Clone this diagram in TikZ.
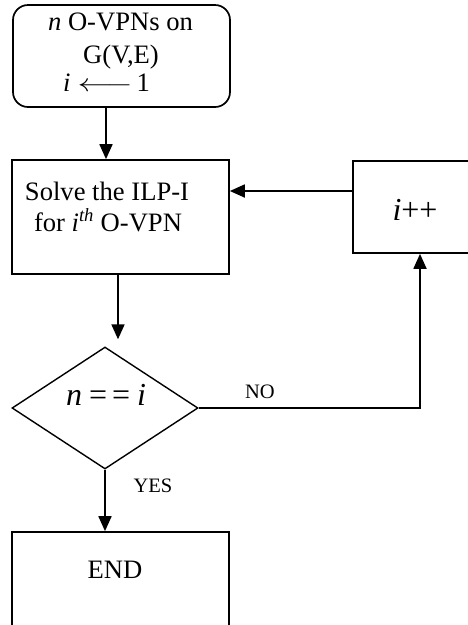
\documentclass[tikz,border=0pt]{standalone}
\usepackage{fontspec}
\setmainfont{Liberation Serif}
\usepackage{graphicx}
\usetikzlibrary{arrows.meta,shapes.geometric}

\begin{document}
\begin{tikzpicture}[x=1pt,y=-1pt,
  shapebox/.style={draw,line width=1.7pt,inner sep=0pt},
  txt/.style={anchor=base,inner sep=0pt,font=\fontsize{26.6}{31}\selectfont},
  mtxt/.style={anchor=base,inner sep=0pt,font=\fontsize{32}{36}\selectfont},
  lbl/.style={anchor=base,inner sep=0pt,font=\fontsize{20.5}{24}\selectfont},
  flow/.style={line width=1.8pt,-{Triangle[width=13pt,length=15pt]}}]

\useasboundingbox (0,0) rectangle (468,625);
\clip (0,0) rectangle (468,625);

% blocks of the flow chart
\node[shapebox,rounded corners=15pt,minimum width=217pt,minimum height=102pt] (start) at (121.5,56) {};
\node[shapebox,minimum width=217pt,minimum height=114pt] (solve) at (120.5,217) {};
\node[shapebox,minimum width=124pt,minimum height=92pt] (inc) at (415,207) {};
\node[shapebox,line width=1.4pt,diamond,minimum width=186pt,minimum height=122pt] (dec) at (105,408) {};
\node[shapebox,minimum width=217pt,minimum height=110pt] (end) at (120.5,587) {};

% texts inside the blocks
\node[txt] (t1) at (120.5,30) {\textit{n} O-VPNs on};
\node[txt] (t2) at (121,63) {G(V,E)};
\node[txt] (t3) at (106.5,91) {\textit{i}\hspace{7pt}\resizebox{55pt}{\height}{$\longleftarrow$}\hspace{4pt}1};
\node[txt] (t4) at (107,200) {Solve the ILP-I};
\node[txt] (t5) at (108,231) {for \textit{i}\textsuperscript{\textit{th}} O-VPN};
\node[mtxt] (t6) at (415,220) {\textit{i}++};
\node[mtxt] (t7) at (106,405) {\textit{n}\hspace{7pt}=\hspace{5pt}=\hspace{7pt}\textit{i}};
\node[txt] (t8) at (115,578) {END};

% branch labels
\node[lbl] (no) at (260,398) {NO};
\node[lbl] (yes) at (153,492) {YES};

% connectors
\coordinate (ax1) at (106,0);
\coordinate (ax2) at (118,0);
\coordinate (ax3) at (420,0);
\coordinate (ay) at (0,191);
\draw[flow] (start.south -| ax1) -- (solve.north -| ax1);
\draw[flow,shorten >=7pt] (solve.south -| ax2) -- (dec.north -| ax2);
\draw[flow] (inc.west |- ay) -- (solve.east |- ay);
\draw[flow] (dec.east) -| (inc.south -| ax3);
\draw[flow] (dec.south) -- (end.north -| dec.south);
\end{tikzpicture}
\end{document}
